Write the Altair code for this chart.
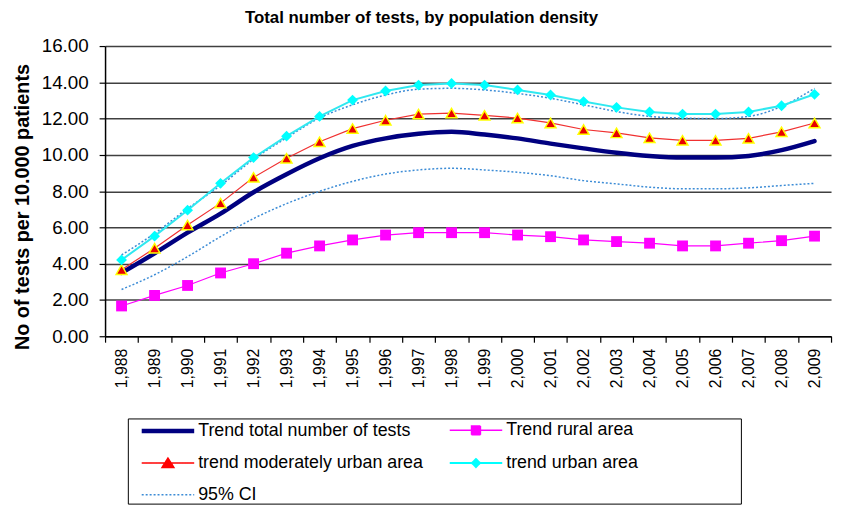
import altair as alt
import pandas as pd

years = list(range(1988, 2010))

total = [3.49, 4.57, 5.71, 6.76, 7.94, 8.93, 9.81, 10.49, 10.91, 11.16, 11.27,
         11.12, 10.91, 10.62, 10.36, 10.12, 9.94, 9.85, 9.85, 9.94, 10.26, 10.76]
rural = [1.67, 2.25, 2.80, 3.49, 4.00, 4.58, 4.98, 5.31, 5.58, 5.71, 5.71,
         5.71, 5.58, 5.49, 5.31, 5.22, 5.13, 4.98, 4.98, 5.13, 5.27, 5.52]
moderate = [3.67, 4.85, 6.13, 7.34, 8.76, 9.81, 10.72, 11.45, 11.91, 12.25, 12.30,
            12.18, 12.03, 11.76, 11.40, 11.21, 10.94, 10.80, 10.80, 10.91, 11.27, 11.76]
urban = [4.21, 5.52, 6.95, 8.43, 9.85, 11.03, 12.12, 13.02, 13.52, 13.85, 13.94,
         13.85, 13.58, 13.30, 12.94, 12.62, 12.37, 12.25, 12.25, 12.37, 12.71, 13.34]
ci_upper = [4.48, 5.67, 7.04, 8.31, 9.76, 10.94, 12.03, 12.76, 13.30, 13.62, 13.67,
            13.58, 13.39, 13.12, 12.76, 12.39, 12.12, 12.03, 12.00, 12.12, 12.67, 13.67]
ci_lower = [2.58, 3.39, 4.39, 5.49, 6.49, 7.31, 7.99, 8.54, 8.94, 9.17, 9.26,
            9.17, 9.04, 8.85, 8.58, 8.40, 8.22, 8.13, 8.13, 8.18, 8.31, 8.43]

series_names = ["Trend total number of tests", "Trend rural area",
                "trend moderately urban area", "trend urban area", "95% CI"]
series_colors = ["#000080", "#FF00FF", "#FF0000", "#00FFFF", "#3C8CD6"]
series_widths = [4.5, 1.5, 1.5, 2, 1.5]
series_dashes = [[1, 0], [1, 0], [1, 0], [1, 0], [2, 2]]
legend_paths = [
    "M0.15,0H5.45",
    "M0.15,0H5.45M2.35,-0.45H3.25V0.45H2.35Z",
    "M0.15,0H5.45M2.8,-0.5L3.4,0.45H2.2Z",
    "M0.15,0H5.45M2.8,-0.4L3.2,0L2.8,0.4L2.4,0Z",
    "M0.15,0H5.45",
]

# blank spacer entry that widens the legend frame like the reference box
spacer = "\u2800" + "\u00a0" * 42 + "\u2800"
legend_domain = series_names + [spacer]
legend_colors = series_colors + ["#FFFFFF"]
legend_widths = series_widths + [0]
legend_dashes = series_dashes + [[1, 0]]
legend_shapes = legend_paths + ["M0,0"]

rows = []
for key, vals in [("total", total), ("rural", rural), ("moderate", moderate),
                  ("urban", urban), ("ci_upper", ci_upper), ("ci_lower", ci_lower)]:
    for yr, v in zip(years, vals):
        rows.append({"key": key, "year": yr, "value": v})
df = pd.DataFrame(rows)

FONT = "Liberation Sans"

x_enc = alt.X("year:O", title=None,
              scale=alt.Scale(type="band", paddingInner=0, paddingOuter=0),
              axis=alt.Axis(labelAngle=-90,
                            labelExpr="datum.value ? format(datum.value, ',') : ''",
                            tickBand="extent", tickSize=6, tickColor="black",
                            domainColor="black", domainWidth=1.5, tickWidth=1.2,
                            labelFontSize=16, labelPadding=6, labelColor="black",
                            grid=False))
y_enc = alt.Y("value:Q",
              scale=alt.Scale(domain=[0, 16], nice=False),
              axis=alt.Axis(values=[0, 2, 4, 6, 8, 10, 12, 14, 16], format=".2f",
                            title="No of tests per 10.000 patients",
                            titleFontSize=20, titleFontWeight="bold", titleColor="black",
                            titleX=-73, titleY=162, titleBaseline="bottom",
                            titleAngle=270, titleAlign="center",
                            labelFontSize=19, labelPadding=11, labelColor="black",
                            tickSize=6, tickColor="black", tickWidth=1.2,
                            domainColor="black", domainWidth=1.5,
                            grid=True, gridColor="#404040", gridWidth=1.5))

base = alt.Chart(df).encode(x=x_enc, y=y_enc)


def sel(k):
    return base.transform_filter(alt.datum.key == k)


ci_up = sel("ci_upper").mark_line(color=series_colors[4], strokeWidth=1.5,
                                  strokeDash=[2, 2], interpolate="monotone")
ci_lo = sel("ci_lower").mark_line(color=series_colors[4], strokeWidth=1.5,
                                  strokeDash=[2, 2], interpolate="monotone")
total_line = sel("total").mark_line(color=series_colors[0], strokeWidth=4.5,
                                    interpolate="monotone", strokeCap="round")
rural_line = sel("rural").mark_line(color=series_colors[1], strokeWidth=1.2)
rural_pts = sel("rural").mark_point(shape="square", filled=True, size=120,
                                    fill=series_colors[1], opacity=1)
mod_line = sel("moderate").mark_line(color="#F03030", strokeWidth=1.2)
mod_pts = sel("moderate").mark_point(shape="triangle-up", filled=True, size=120,
                                     fill="#E80000", stroke="#FFFF00", strokeWidth=1.5,
                                     opacity=1)
urban_line = sel("urban").mark_line(color="#30E8F0", strokeWidth=2)
urban_pts = sel("urban").mark_point(shape="diamond", filled=True, size=120,
                                    fill=series_colors[3], opacity=1)

leg = alt.Legend(title=None, orient="none", legendX=23, legendY=376, columns=2,
                 direction="horizontal",
                 gridAlign="each", columnPadding=12, rowPadding=12, padding=0,
                 labelFontSize=18, labelFont=FONT, labelColor="black", labelLimit=600,
                 labelOffset=46, symbolSize=400, strokeColor="black",
                 fillColor="white", symbolLimit=0)

legend_df = pd.DataFrame({"series": legend_domain})
legend_layer = alt.Chart(legend_df).transform_filter("false").mark_point(
    filled=True, size=400, opacity=1).encode(
    shape=alt.Shape("series:N", scale=alt.Scale(domain=legend_domain, range=legend_shapes), legend=leg),
    color=alt.Color("series:N", scale=alt.Scale(domain=legend_domain, range=legend_colors), legend=leg),
    stroke=alt.Stroke("series:N", scale=alt.Scale(domain=legend_domain, range=legend_colors), legend=leg),
    strokeWidth=alt.StrokeWidth("series:N", scale=alt.Scale(type="ordinal", domain=legend_domain, range=legend_widths), legend=leg),
    strokeDash=alt.StrokeDash("series:N", scale=alt.Scale(domain=legend_domain, range=legend_dashes), legend=leg),
)

chart = alt.layer(
    ci_up, ci_lo, total_line, rural_line, mod_line, urban_line,
    rural_pts, mod_pts, urban_pts, legend_layer
).properties(
    width=733, height=293,
    title=alt.TitleParams("Total number of tests, by population density",
                          fontSize=17, fontWeight="bold", anchor="middle", dx=-47,
                          offset=10, font=FONT, color="black"),
    autosize=alt.AutoSizeParams(type="none"),
    padding={"left": 98, "top": 36, "right": 4, "bottom": 172},
).configure(font=FONT).configure_view(stroke=None).configure_axis(labelFont=FONT, titleFont=FONT)

chart.save("out.html", embed_options={"renderer": "svg", "actions": False})
